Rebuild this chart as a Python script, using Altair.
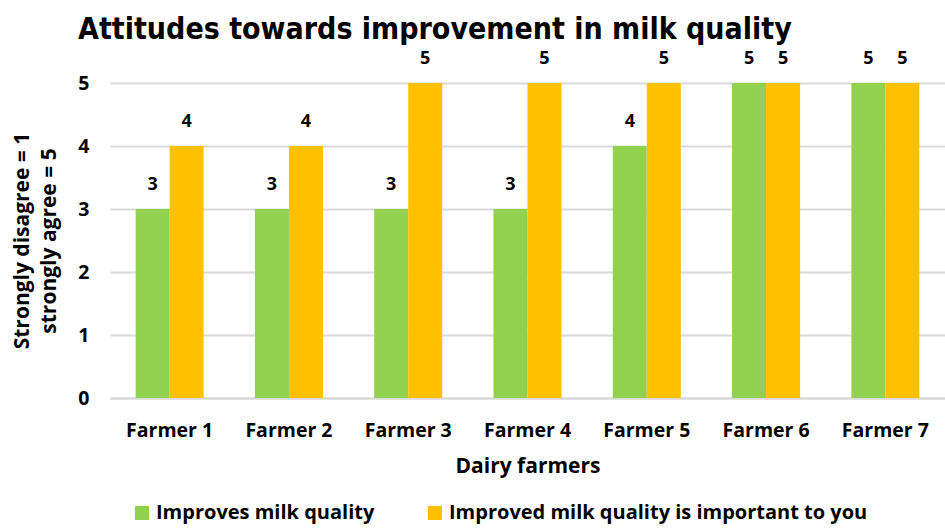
import altair as alt
import pandas as pd

farmers = ["Farmer 1", "Farmer 2", "Farmer 3", "Farmer 4", "Farmer 5", "Farmer 6", "Farmer 7"]
series_names = ["Improves milk quality", "Improved milk quality is important to you"]
improves = [3, 3, 3, 3, 4, 5, 5]
important = [4, 4, 5, 5, 5, 5, 5]
colors = ["#92D050", "#FFC000"]

rows = []
for f, a, b in zip(farmers, improves, important):
    rows.append({"farmer": f, "series": series_names[0], "value": a})
    rows.append({"farmer": f, "series": series_names[1], "value": b})
df = pd.DataFrame(rows)

FONT = "Open Sans"

x = alt.X("farmer:N", sort=farmers,
          scale=alt.Scale(paddingInner=0.43, paddingOuter=0.215),
          axis=alt.Axis(title="Dairy farmers", labelAngle=0, labelFontSize=19.5, labelFont=FONT,
                        labelFontWeight="bold", labelColor="#000", labelPadding=23,
                        titleFontSize=21, titleFont=FONT, titleFontWeight="bold", titleColor="#000",
                        titlePadding=16, ticks=False, domainColor="#d9d9d9", domainWidth=2))
xo = alt.XOffset("series:N", sort=series_names)

bars = alt.Chart(df).mark_bar().encode(
    x=x, xOffset=xo,
    y=alt.Y("value:Q", scale=alt.Scale(domain=[0, 5]),
            axis=alt.Axis(values=[0, 1, 2, 3, 4, 5], format="d",
                          title=["Strongly disagree = 1", "strongly agree = 5"],
                          labelFontSize=19.5, labelFont=FONT, labelFontWeight="bold", labelColor="#000",
                          labelPadding=21, titleFontSize=21, titleFont=FONT, titleFontWeight="bold",
                          titleColor="#000", titlePadding=18, ticks=False, domain=False,
                          gridColor="#d9d9d9", gridWidth=2, titleLineHeight=27)),
    color=alt.Color("series:N", sort=series_names,
                    scale=alt.Scale(domain=series_names, range=colors),
                    legend=alt.Legend(title=None, orient="none", direction="horizontal",
                                      legendX=22, legendY=108 + 315 - 3,
                                      symbolType="square", symbolSize=196, symbolStrokeWidth=0,
                                      labelFontSize=20, labelFont=FONT, labelFontWeight="bold",
                                      labelColor="#000", labelLimit=500, columnPadding=50,
                                      symbolOpacity=1)),
)

labels = alt.Chart(df).mark_text(baseline="bottom", dy=-15, fontSize=18, font=FONT,
                                 fontWeight="bold", color="#000").encode(
    x=alt.X("farmer:N", sort=farmers), xOffset=xo,
    y="value:Q", text="value:Q")

chart = alt.layer(bars, labels).properties(
    width=835, height=315,
    padding={"left": 110, "top": 83, "right": 0, "bottom": 130},
    autosize=alt.AutoSizeParams(type="none"),
    title=alt.TitleParams("Attitudes towards improvement in milk quality", anchor="start",
                          frame="group", dx=-32, dy=19, offset=0, fontSize=30,
                          font="'DejaVu Sans Condensed', 'Open Sans', sans-serif",
                          fontWeight="bold", color="#000", baseline="alphabetic"),
).configure_view(stroke=None)

chart.save("out.html", embed_options={"renderer": "svg", "actions": False})
